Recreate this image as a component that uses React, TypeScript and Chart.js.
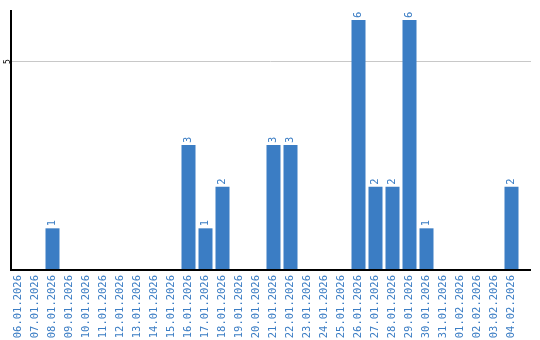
import React, { useEffect, useRef } from 'react';
import { Chart, registerables } from 'chart.js';

Chart.register(...registerables);

const categories = [
  '06.01.2026', '07.01.2026', '08.01.2026', '09.01.2026', '10.01.2026',
  '11.01.2026', '12.01.2026', '13.01.2026', '14.01.2026', '15.01.2026',
  '16.01.2026', '17.01.2026', '18.01.2026', '19.01.2026', '20.01.2026',
  '21.01.2026', '22.01.2026', '23.01.2026', '24.01.2026', '25.01.2026',
  '26.01.2026', '27.01.2026', '28.01.2026', '29.01.2026', '30.01.2026',
  '31.01.2026', '01.02.2026', '02.02.2026', '03.02.2026', '04.02.2026',
];
const values = [
  0, 0, 1, 0, 0, 0, 0, 0, 0, 0,
  3, 1, 2, 0, 0, 3, 3, 0, 0, 0,
  6, 2, 2, 6, 1, 0, 0, 0, 0, 2,
];
const yTickValues = [5];
const yMax = 6.24;

const BLUE = '#3b7dc4';
const FONT = '"DejaVu Sans Mono", "Liberation Mono", monospace';

const decorPlugin = {
  id: 'decor',
  beforeDatasetsDraw(chart: any) {
    const { ctx, chartArea, scales } = chart;
    const y = scales.y;
    ctx.save();
    ctx.strokeStyle = '#c8c8c8';
    ctx.lineWidth = 1;
    for (const t of y.ticks) {
      if (t.value <= 0) continue;
      const py = Math.round(y.getPixelForValue(t.value)) - 0.5;
      ctx.beginPath();
      ctx.moveTo(chartArea.left, py);
      ctx.lineTo(531, py);
      ctx.stroke();
    }
    ctx.restore();
  },
  afterDatasetsDraw(chart: any) {
    const { ctx, chartArea } = chart;
    ctx.save();
    // value labels
    const meta = chart.getDatasetMeta(0);
    ctx.fillStyle = BLUE;
    ctx.font = '10.5px ' + FONT;
    ctx.textAlign = 'left';
    ctx.textBaseline = 'middle';
    meta.data.forEach((bar: any, i: number) => {
      const v = values[i];
      if (!v) return;
      ctx.save();
      ctx.translate(bar.x, bar.y - 2);
      ctx.rotate(-Math.PI / 2);
      ctx.fillText(String(v), 0, 0);
      ctx.restore();
    });
    // axis lines
    ctx.strokeStyle = '#000';
    ctx.lineWidth = 2;
    ctx.beginPath();
    ctx.moveTo(chartArea.left + 1, chartArea.top);
    ctx.lineTo(chartArea.left + 1, chartArea.bottom + 1);
    ctx.stroke();
    ctx.beginPath();
    ctx.moveTo(chartArea.left, chartArea.bottom);
    ctx.lineTo(531, chartArea.bottom);
    ctx.stroke();
    ctx.restore();
  },
};

export default function App() {
  const ref = useRef<HTMLCanvasElement | null>(null);

  useEffect(() => {
    if (!ref.current) return;
    const chart = new Chart(ref.current, {
      type: 'bar',
      data: {
        labels: categories,
        datasets: [
          {
            data: values,
            backgroundColor: BLUE,
            borderWidth: 0,
            categoryPercentage: 1,
            barPercentage: 14 / 17,
          },
        ],
      },
      options: {
        responsive: false,
        animation: false,
        events: [],
        layout: { padding: { top: 10, right: 20, left: 0, bottom: 0 } },
        plugins: {
          legend: { display: false },
          tooltip: { enabled: false },
          title: { display: false },
        },
        scales: {
          x: {
            grid: { display: false, drawTicks: false },
            border: { display: false },
            ticks: {
              autoSkip: false,
              minRotation: 90,
              maxRotation: 90,
              padding: 5,
              color: BLUE,
              font: { family: FONT, size: 10.5 },
            },
            afterFit: (s: any) => { s.height = 70; },
          },
          y: {
            min: 0,
            max: yMax,
            grid: { display: false, drawTicks: false },
            border: { display: false },
            afterBuildTicks: (s: any) => {
              s.ticks = yTickValues.map((v) => ({ value: v }));
            },
            ticks: {
              minRotation: 90,
              maxRotation: 90,
              crossAlign: 'center',
              padding: 0,
              color: '#000',
              font: { family: FONT, size: 8 },
            },
            afterFit: (s: any) => { s.width = 10; },
          },
        },
      },
      plugins: [decorPlugin],
    });
    return () => chart.destroy();
  }, []);

  return (
    <div style={{ position: 'absolute', left: 0, top: 0, width: 540, height: 340, background: '#fff' }}>
      <canvas ref={ref} width={540} height={340} style={{ display: 'block' }} />
    </div>
  );
}
